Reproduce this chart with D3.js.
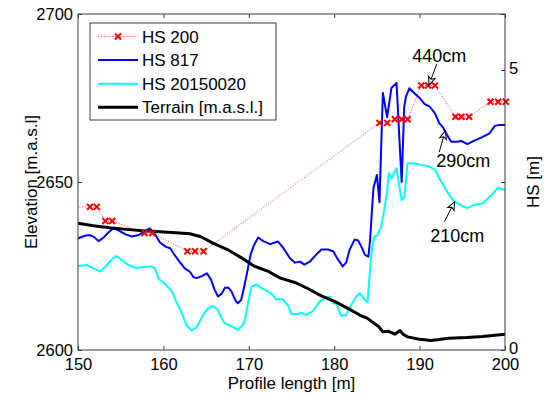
<!DOCTYPE html>
<html>
<head>
<meta charset="utf-8">
<script src="https://cdn.jsdelivr.net/npm/d3@7"></script>
<style>
  body { margin: 0; background: #fff; }
  text { font-family: "Liberation Sans", Arial, sans-serif; fill: #000; }
</style>
</head>
<body>
<svg id="chart" width="548" height="397"></svg>
<script>
// profile data, all values

const terrainX = [150.0,151.8,153.7,155.7,157.6,159.6,161.5,163.1,164.4,165.8,167.5,169.1,170.6,172.2,173.7,175.4,176.9,178.5,180.1,181.6,183.0,183.9,184.7,185.2,185.7,186.3,187.1,187.7,188.1,188.6,189.8,191.3,192.3,193.4,195.5,197.4,200.0];
const terrainElev = [2637.7,2637.0,2636.4,2635.9,2635.5,2635.2,2634.9,2634.6,2633.7,2631.8,2629.9,2627.5,2625.0,2623.5,2621.4,2620.1,2618.3,2616.1,2614.4,2612.4,2610.4,2609.4,2607.9,2607.0,2605.4,2605.6,2604.7,2605.8,2604.6,2603.9,2603.3,2602.8,2603.1,2603.5,2603.7,2604.0,2604.7];

const hs817X = [150.0,150.8,151.4,151.9,152.4,153.0,153.5,154.1,154.7,155.5,156.3,157.1,157.8,158.4,159.0,159.6,160.3,160.8,161.3,161.9,162.5,163.1,163.5,163.9,164.5,165.1,165.6,166.0,166.4,166.8,167.2,167.6,168.0,168.4,168.7,169.1,169.5,169.9,170.2,170.6,171.1,171.7,172.5,173.4,174.0,174.8,175.4,176.0,176.5,177.1,177.9,178.5,179.3,179.9,180.4,181.0,181.4,181.8,182.4,182.8,183.2,183.6,184.0,184.2,184.4,184.6,185.0,185.3,185.7,186.2,186.7,187.3,187.6,187.9,188.2,188.4,188.8,189.4,190.0,190.6,191.2,191.8,192.3,192.7,193.1,193.7,194.3,194.9,195.6,196.4,197.2,198.2,198.8,199.4,200.0];
const hs817Elev = [2633.2,2634.0,2634.2,2633.6,2632.4,2633.5,2634.8,2636.2,2635.7,2634.5,2633.8,2634.2,2635.4,2636.2,2634.5,2632.0,2630.7,2630.3,2628.3,2626.2,2624.3,2623.3,2621.7,2621.4,2622.0,2622.8,2620.8,2617.9,2615.9,2616.7,2618.5,2618.6,2617.3,2614.9,2613.9,2614.9,2619.3,2624.3,2628.3,2631.2,2633.5,2632.4,2631.5,2632.3,2630.5,2627.4,2626.0,2626.3,2625.4,2626.2,2628.4,2629.9,2629.9,2629.3,2627.1,2624.9,2626.0,2629.8,2632.9,2632.6,2630.7,2628.3,2627.8,2632.7,2640.7,2648.2,2652.1,2644.0,2676.5,2669.3,2678.0,2679.5,2664.6,2650.0,2672.3,2675.4,2677.9,2676.4,2675.0,2673.2,2672.4,2670.4,2667.5,2666.4,2664.5,2662.0,2662.0,2662.2,2661.3,2662.3,2663.2,2664.5,2666.7,2667.0,2667.0];

const hs2015X = [150.0,151.0,151.8,152.6,153.4,153.9,154.5,155.1,155.9,156.7,157.6,158.6,159.0,159.4,160.2,161.0,161.5,162.1,162.7,163.3,163.9,164.7,165.2,165.8,166.4,166.8,167.2,168.0,168.7,169.3,169.6,169.9,170.3,170.9,171.5,172.1,172.7,173.2,174.0,174.6,175.0,175.8,176.2,176.7,177.5,178.3,178.9,179.5,179.9,180.3,180.8,181.4,182.0,182.6,183.0,183.6,183.9,184.2,184.4,184.7,185.1,185.5,185.9,186.1,186.4,186.7,187.3,187.6,187.9,188.2,188.6,189.4,190.2,191.2,191.8,192.3,193.1,193.9,194.7,195.6,196.4,197.4,198.4,199.2,200.0];
const hs2015Elev = [2625.0,2625.3,2624.3,2623.3,2625.3,2626.8,2628.0,2626.8,2625.3,2624.4,2624.6,2624.9,2624.3,2621.3,2619.6,2617.4,2614.4,2611.3,2607.4,2605.8,2606.8,2610.6,2612.4,2613.1,2611.9,2609.5,2607.9,2607.0,2606.0,2607.4,2609.5,2613.9,2618.8,2619.5,2618.4,2617.6,2616.7,2615.1,2615.1,2613.2,2610.7,2610.7,2611.1,2610.4,2611.6,2614.4,2615.4,2615.9,2613.9,2613.7,2610.2,2610.4,2613.4,2615.9,2616.9,2614.9,2614.3,2623.8,2629.8,2633.7,2634.2,2636.7,2642.2,2645.6,2652.6,2651.1,2654.1,2649.1,2644.6,2645.4,2655.6,2655.6,2655.1,2654.6,2653.6,2651.1,2647.6,2644.6,2643.2,2642.2,2643.2,2643.7,2646.1,2648.3,2647.6];

const hs200X = [149.5,151.4,152.2,153.2,154.0,157.8,158.7,162.8,163.7,164.7,185.3,186.2,187.1,187.9,188.6,190.2,191.0,191.8,194.2,194.9,195.8,198.3,199.2,200.1];
const hs200Elev = [2642.6,2642.6,2642.6,2638.4,2638.4,2634.8,2634.8,2629.4,2629.4,2629.4,2667.6,2667.6,2668.7,2668.7,2668.7,2678.7,2678.7,2678.7,2669.4,2669.4,2669.4,2673.9,2673.9,2673.9];

const xTicks = [150, 160, 170, 180, 190, 200];
const elevTicks = [2600, 2650, 2700];
const hsTicks = [0, 5];

const legendNames = ["HS 200", "HS 817", "HS 20150020", "Terrain [m.a.s.l.]"];

// annotation arrows (tip, tail, label centre), in data units
const annoLabels = ["440cm", "290cm", "210cm"];
const annoTipX = [191.1, 193.0, 194.1];
const annoTipElev = [2678.9, 2665.2, 2644.1];
const annoTailX = [192.0, 192.3, 192.9];
const annoTailElev = [2685.1, 2658.9, 2638.2];
const annoTextX = [192.3, 195.1, 194.4];
const annoTextElev = [2687.5, 2656.5, 2634.2];

const plotLeft = 78, plotRight = 505, plotTop = 14, plotBottom = 350;

const svg = d3.select("#chart");

const x = d3.scaleLinear().domain([150, 200]).range([plotLeft, plotRight]);
const y = d3.scaleLinear().domain([2600, 2700]).range([plotBottom, plotTop]);
const yHS = d3.scaleLinear().domain([0, 6]).range([plotBottom, plotTop]);

function zipXY(xs, ys) {
  return xs.map(function(v, i) { return { x: v, y: ys[i] }; });
}

const terrain = zipXY(terrainX, terrainElev);
const hs817 = zipXY(hs817X, hs817Elev);
const hs2015 = zipXY(hs2015X, hs2015Elev);
const hs200 = zipXY(hs200X, hs200Elev);

svg.append("clipPath").attr("id", "plot-clip")
  .append("rect")
  .attr("x", plotLeft).attr("y", plotTop)
  .attr("width", plotRight - plotLeft).attr("height", plotBottom - plotTop);

const line = d3.line()
  .x(function(d) { return x(d.x); })
  .y(function(d) { return y(d.y); });

const plot = svg.append("g").attr("clip-path", "url(#plot-clip)");

// dotted HS 200 line
plot.append("path")
  .datum(hs200)
  .attr("d", line)
  .attr("fill", "none")
  .attr("stroke", "#ff5050")
  .attr("stroke-width", 1)
  .attr("stroke-dasharray", "1.2,1.6");

plot.append("path")
  .datum(hs817)
  .attr("d", line)
  .attr("fill", "none")
  .attr("stroke", "#0000ff")
  .attr("stroke-width", 2)
  .attr("stroke-linejoin", "round");

plot.append("path")
  .datum(hs2015)
  .attr("d", line)
  .attr("fill", "none")
  .attr("stroke", "#00ffff")
  .attr("stroke-width", 2)
  .attr("stroke-linejoin", "round");

plot.append("path")
  .datum(terrain)
  .attr("d", line)
  .attr("fill", "none")
  .attr("stroke", "#000")
  .attr("stroke-width", 3)
  .attr("stroke-linejoin", "round");

const xMark = "M-3,-3L3,3M-3,3L3,-3";

svg.append("g")
  .selectAll("path")
  .data(hs200.filter(function(d) { return d.x >= 150; }))
  .enter()
  .append("path")
  .attr("transform", function(d) { return "translate(" + x(d.x) + "," + y(d.y) + ")"; })
  .attr("d", xMark)
  .attr("stroke", "#ff0000")
  .attr("stroke-width", 2);

// axes box and ticks (inward like matlab)
const axisColor = "#3a3a3a";

svg.append("rect")
  .attr("x", plotLeft).attr("y", plotTop)
  .attr("width", plotRight - plotLeft).attr("height", plotBottom - plotTop)
  .attr("fill", "none")
  .attr("stroke", axisColor);

function styleAxis(g) {
  g.select(".domain").remove();
  g.selectAll(".tick line").attr("stroke", axisColor);
  g.selectAll(".tick text")
    .style("font-family", "'Liberation Sans', Arial, sans-serif")
    .style("font-size", "16.5px")
    .attr("fill", "#000");
}

svg.append("g")
  .attr("transform", "translate(0," + plotBottom + ")")
  .call(d3.axisBottom(x).tickValues(xTicks).tickSize(-4).tickPadding(8).tickFormat(d3.format("d")))
  .call(styleAxis);

svg.append("g")
  .attr("transform", "translate(0," + plotTop + ")")
  .call(d3.axisTop(x).tickValues(xTicks).tickSize(-4).tickFormat(""))
  .call(styleAxis);

svg.append("g")
  .attr("transform", "translate(" + plotLeft + ",0)")
  .call(d3.axisLeft(y).tickValues(elevTicks).tickSize(-4).tickPadding(5).tickFormat(d3.format("d")))
  .call(styleAxis);

svg.append("g")
  .attr("transform", "translate(" + plotRight + ",0)")
  .call(d3.axisRight(y).tickValues(elevTicks).tickSize(-4).tickFormat(""))
  .call(styleAxis);

svg.append("g")
  .attr("transform", "translate(" + plotRight + ",0)")
  .call(d3.axisRight(yHS).tickValues(hsTicks).tickSize(-4).tickPadding(4).tickFormat(d3.format("d")))
  .call(styleAxis)
  .call(function(g) { g.selectAll(".tick text").attr("dy", "0.2em"); });

// axis titles
svg.append("text")
  .attr("x", (plotLeft + plotRight) / 2)
  .attr("y", 389)
  .attr("text-anchor", "middle")
  .style("font-size", "17px")
  .text("Profile length [m]");

svg.append("text")
  .attr("transform", "translate(37," + (plotTop + plotBottom) / 2 + ") rotate(-90)")
  .attr("text-anchor", "middle")
  .style("font-size", "17px")
  .text("Elevation [m.a.s.l]");

svg.append("text")
  .attr("transform", "translate(539," + (plotTop + plotBottom) / 2 + ") rotate(-90)")
  .attr("text-anchor", "middle")
  .style("font-size", "17px")
  .text("HS [m]");

// annotations
const annos = annoLabels.map(function(t, i) {
  return {
    label: t,
    tx: x(annoTipX[i]), ty: y(annoTipElev[i]),
    sx: x(annoTailX[i]), sy: y(annoTailElev[i]),
    lx: x(annoTextX[i]), ly: y(annoTextElev[i])
  };
});

const anno = svg.append("g").selectAll("g").data(annos).enter().append("g");

anno.append("line")
  .attr("x1", function(d) { return d.sx; })
  .attr("y1", function(d) { return d.sy; })
  .attr("x2", function(d) { return d.tx; })
  .attr("y2", function(d) { return d.ty; })
  .attr("stroke", "#000")
  .attr("stroke-width", 1);

anno.append("path")
  .attr("transform", function(d) {
    const ang = Math.atan2(d.ty - d.sy, d.tx - d.sx) * 180 / Math.PI;
    return "translate(" + d.tx + "," + d.ty + ") rotate(" + ang + ")";
  })
  .attr("d", "M0,0L-8,-3.5L-6,0L-8,3.5Z")
  .attr("fill", "#fff")
  .attr("stroke", "#000")
  .attr("stroke-width", 1);

anno.append("text")
  .attr("x", function(d) { return d.lx; })
  .attr("y", function(d) { return d.ly; })
  .attr("dy", "0.36em")
  .attr("text-anchor", "middle")
  .style("font-size", "18px")
  .text(function(d) { return d.label; });

// legend
const legend = svg.append("g");

legend.append("rect")
  .attr("x", 90).attr("y", 23)
  .attr("width", 186).attr("height", 97)
  .attr("fill", "#fff")
  .attr("stroke", axisColor);

const legendColors = ["#ff5050", "#0000ff", "#00ffff", "#000"];
const legendWidths = [1, 2, 2, 3];

const item = legend.selectAll("g.item")
  .data(legendNames)
  .enter()
  .append("g")
  .attr("class", "item")
  .attr("transform", function(d, i) { return "translate(0," + (36.5 + i * 23.6) + ")"; });

item.append("line")
  .attr("x1", 98).attr("x2", 138)
  .attr("stroke", function(d, i) { return legendColors[i]; })
  .attr("stroke-width", function(d, i) { return legendWidths[i]; })
  .attr("stroke-dasharray", function(d, i) { return i === 0 ? "1.2,1.6" : null; });

item.filter(function(d, i) { return i === 0; })
  .append("path")
  .attr("transform", "translate(118,0)")
  .attr("d", xMark)
  .attr("stroke", "#ff0000")
  .attr("stroke-width", 2);

item.append("text")
  .attr("x", 142)
  .attr("dy", "0.36em")
  .style("font-size", "17px")
  .text(function(d) { return d; });
</script>
</body>
</html>
